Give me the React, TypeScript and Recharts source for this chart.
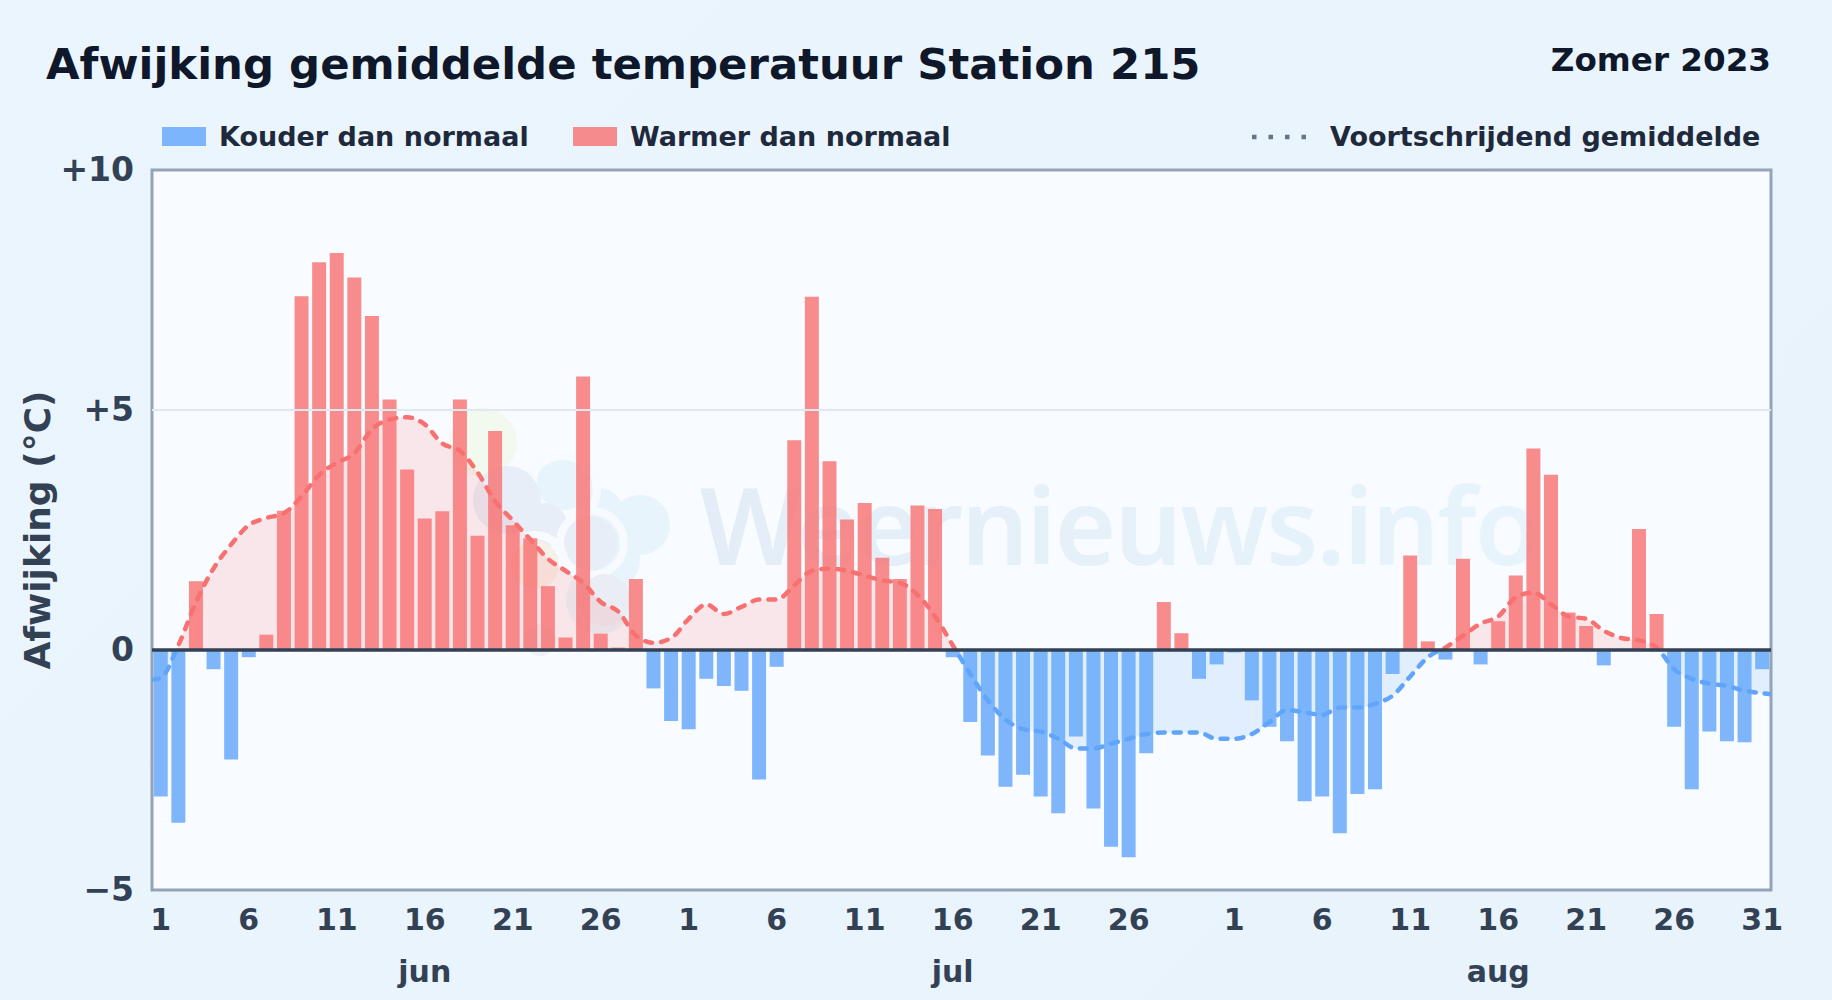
import React from 'react';
import { ComposedChart, Bar, Line, Area, XAxis, YAxis, ReferenceLine, ReferenceArea } from 'recharts';

const W = 1832, H = 1000;
const PLOT = { left: 152, top: 170, right: 1771, bottom: 890 };
const FONT = '"DejaVu Sans", sans-serif';

const titleText = 'Afwijking gemiddelde temperatuur Station 215';
const periodText = 'Zomer 2023';
const coldName = 'Kouder dan normaal';
const warmName = 'Warmer dan normaal';
const avgName = 'Voortschrijdend gemiddelde';
const yAxisName = 'Afwijking (°C)';
const yTicks = [-5, 0, 5, 10];
const yGrid = [5];
const xDomain = [-0.5, 91.5];

const juneValues = [-3.05, -3.6, 1.43, -0.4, -2.28, -0.15, 0.32, 2.9, 7.37, 8.08, 8.27, 7.76, 6.96, 5.22, 3.76, 2.74, 2.89, 5.22, 2.38, 4.56, 2.6, 2.33, 1.33, 0.26, 5.7, 0.34, 0.05, 1.48, -0.8, -1.48];
const julyValues = [-1.65, -0.6, -0.75, -0.85, -2.7, -0.35, 4.37, 7.36, 3.93, 2.72, 3.06, 1.92, 1.48, 3.01, 2.94, -0.15, -1.5, -2.2, -2.85, -2.6, -3.05, -3.4, -1.8, -3.3, -4.1, -4.32, -2.15, 1.0, 0.35, -0.6, -0.3];
const augustValues = [-0.05, -1.05, -1.6, -1.9, -3.15, -3.05, -3.82, -3.0, -2.9, -0.5, 1.97, 0.18, -0.2, 1.9, -0.3, 0.6, 1.55, 4.2, 3.65, 0.78, 0.5, -0.32, 0, 2.52, 0.75, -1.6, -2.9, -1.7, -1.9, -1.92, -0.4];

const months = [
  { name: 'jun', days: juneValues.length },
  { name: 'jul', days: julyValues.length },
  { name: 'aug', days: augustValues.length },
];

const avgEdgeStart = -0.62;
const avgEdgeEnd = -0.92;
const rollingAvg = [
  -0.58, 0.1, 1.0, 1.7, 2.2, 2.6, 2.75, 2.85, 3.2, 3.65, 3.9, 4.1, 4.6, 4.8, 4.85, 4.7, 4.3, 4.15, 3.7, 3.1, 2.7, 2.3, 1.9, 1.65, 1.4, 1.0, 0.8, 0.3, 0.15, 0.25,
  0.65, 0.95, 0.75, 0.9, 1.05, 1.05, 1.35, 1.65, 1.7, 1.65, 1.55, 1.45, 1.4, 1.15, 0.7, 0.1, -0.5, -1.05, -1.45, -1.65, -1.7, -1.85, -2.05, -2.05, -1.95, -1.85, -1.75, -1.72, -1.72, -1.72, -1.85,
  -1.85, -1.75, -1.5, -1.25, -1.3, -1.35, -1.2, -1.2, -1.12, -0.95, -0.55, -0.15, 0.05, 0.3, 0.55, 0.7, 1.1, 1.2, 0.95, 0.7, 0.65, 0.4, 0.25, 0.2, 0.05, -0.4, -0.6, -0.7, -0.75, -0.85, -0.9,
];

const values = [...juneValues, ...julyValues, ...augustValues];
const chartData = values.map((v, i) => ({ x: i, warm: v > 0 ? v : 0, cold: v < 0 ? v : 0 }));
const avgData = [
  { x: xDomain[0], avg: avgEdgeStart },
  ...rollingAvg.map((avg, i) => ({ x: i, avg })),
  { x: xDomain[1], avg: avgEdgeEnd },
];

// Tick every 5th day of each month plus the last day of August; month name under day 16.
const tickInfo = new Map<number, { day: number; month?: string }>();
{
  let offset = 0;
  months.forEach((m, mi) => {
    for (let d = 1; d <= m.days; d += 5) {
      if (d === 31 && mi !== months.length - 1) continue;
      tickInfo.set(offset + d - 1, { day: d, month: d === 16 ? m.name : undefined });
    }
    offset += m.days;
  });
}

const COLD = '#60a5fa';
const WARM = '#f87171';
const AXIS_TEXT = '#334155';
const zeroOffset = yTicks[yTicks.length - 1] / (yTicks[yTicks.length - 1] - yTicks[0]);

function XTick(props: any) {
  const { x, payload } = props;
  const info = tickInfo.get(Number(payload.value));
  if (!info) return null;
  return (
    <g fontFamily={FONT} fontWeight={700} fill={AXIS_TEXT} textAnchor="middle">
      <text x={x} y={PLOT.bottom + 40} fontSize={30}>{info.day}</text>
      {info.month && <text x={x} y={PLOT.bottom + 92} fontSize={30}>{info.month}</text>}
    </g>
  );
}

function YTick(props: any) {
  const { x, y, payload } = props;
  const v = payload.value;
  const label = v > 0 ? `+${v}` : v < 0 ? `\u2212${Math.abs(v)}` : '0';
  return (
    <text x={x} y={y + 11} textAnchor="end" fontFamily={FONT} fontWeight={700} fontSize={33} fill={AXIS_TEXT}>{label}</text>
  );
}

function Watermark() {
  return (
    <svg width={W} height={H} style={{ position: 'absolute', left: 0, top: 0 }}>
      <defs>
        <linearGradient id="wmText" x1="0" x2="1" y1="0" y2="0">
          <stop offset="0" stopColor="#e4edf7" />
          <stop offset="1" stopColor="#e7f4fc" />
        </linearGradient>
      </defs>
      <g>
        <circle cx={483} cy={442} r={34} fill="#f2f9ee" />
        <g fill="#e8f4fc">
          <circle cx={565} cy={482} r={28} />
          <circle cx={600} cy={510} r={22} />
          <circle cx={640} cy={525} r={30} />
          <circle cx={610} cy={560} r={30} />
          <circle cx={600} cy={600} r={34} />
        </g>
        <circle cx={563} cy={490} r={34} fill="none" stroke="#f7fbff" strokeWidth={8} />
        <g fill="#e7eef8">
          <circle cx={507} cy={500} r={34} />
          <circle cx={545} cy={525} r={22} />
          <circle cx={590} cy={543} r={27} />
        </g>
        <circle cx={592} cy={543} r={32} fill="none" stroke="#f7fbff" strokeWidth={8} />
        <circle cx={535} cy={565} r={30} fill="none" stroke="#f7fbff" strokeWidth={8} />
        <circle cx={535} cy={565} r={24} fill="#f6f1e8" />
        <circle cx={605} cy={600} r={26} fill="#eaedf4" />
        <circle cx={540} cy={640} r={16} fill="#edf2f9" />
      </g>
      <text x={700} y={565} fontFamily='"Noto Sans", sans-serif' fontWeight={600} fontSize={106} letterSpacing={-2} fill="url(#wmText)">Weernieuws.info</text>
    </svg>
  );
}

function LegendRow() {
  const label: React.CSSProperties = { position: 'absolute', top: 120, fontFamily: FONT, fontWeight: 700, fontSize: 27, lineHeight: '34px', color: '#1e293b', whiteSpace: 'nowrap' };
  const swatch: React.CSSProperties = { position: 'absolute', top: 127, width: 44, height: 19 };
  return (
    <>
      <div style={{ ...swatch, left: 162, background: COLD, opacity: 0.8 }} />
      <div style={{ ...label, left: 219 }}>{coldName}</div>
      <div style={{ ...swatch, left: 573, background: WARM, opacity: 0.8 }} />
      <div style={{ ...label, left: 630 }}>{warmName}</div>
      <svg width={60} height={6} style={{ position: 'absolute', left: 1252, top: 134 }}>
        <line x1={0} x2={60} y1={3} y2={3} stroke="#64748b" strokeWidth={4.5} strokeDasharray="4.5 12" />
      </svg>
      <div style={{ ...label, left: 1330 }}>{avgName}</div>
    </>
  );
}

export default function App() {
  return (
    <div style={{ position: 'absolute', left: 0, top: 0, width: W, height: H, overflow: 'hidden', background: 'linear-gradient(135deg, #ebf5fd 0%, #e8f3fc 100%)' }}>
      <div style={{ position: 'absolute', left: PLOT.left, top: PLOT.top, width: PLOT.right - PLOT.left, height: PLOT.bottom - PLOT.top, background: '#f8fbff' }} />
      <Watermark />
      <div style={{ position: 'absolute', left: 46, top: 36, fontFamily: FONT, fontWeight: 700, fontSize: 43.4, lineHeight: '56px', color: '#0f172a', whiteSpace: 'nowrap' }}>{titleText}</div>
      <div style={{ position: 'absolute', right: W - PLOT.right, top: 38, fontFamily: FONT, fontWeight: 700, fontSize: 32.6, lineHeight: '44px', color: '#0f172a', whiteSpace: 'nowrap' }}>{periodText}</div>
      <LegendRow />
      <div style={{ position: 'absolute', left: 0, top: 0 }}>
        <ComposedChart
          width={W}
          height={H}
          data={chartData}
          stackOffset="sign"
          barCategoryGap="10%"
          margin={{ top: PLOT.top, right: W - PLOT.right, bottom: 0, left: 0 }}
          style={{ background: 'transparent' }}
        >
          <defs>
            <linearGradient id="avgStroke" gradientUnits="userSpaceOnUse" x1="0" x2="0" y1={PLOT.top} y2={PLOT.bottom}>
              <stop offset={zeroOffset} stopColor={WARM} />
              <stop offset={zeroOffset} stopColor={COLD} />
            </linearGradient>
            <linearGradient id="avgFill" gradientUnits="userSpaceOnUse" x1="0" x2="0" y1={PLOT.top} y2={PLOT.bottom}>
              <stop offset={zeroOffset} stopColor={WARM} stopOpacity={0.15} />
              <stop offset={zeroOffset} stopColor={COLD} stopOpacity={0.15} />
            </linearGradient>
          </defs>
          <XAxis
            xAxisId="days"
            dataKey="x"
            type="category"
            interval={0}
            height={H - PLOT.bottom}
            axisLine={false}
            tickLine={false}
            tick={<XTick />}
          />
          <XAxis
            xAxisId="avg"
            dataKey="x"
            type="number"
            domain={xDomain}
            hide
            allowDataOverflow
          />
          <YAxis
            type="number"
            domain={[yTicks[0], yTicks[yTicks.length - 1]]}
            ticks={yTicks}
            interval={0}
            width={PLOT.left}
            axisLine={false}
            tickLine={false}
            tickMargin={12}
            tick={<YTick />}
            label={{ value: yAxisName, angle: -90, position: 'insideLeft', offset: 0, dx: 37, dy: 0, style: { fontFamily: FONT, fontWeight: 700, fontSize: 36, fill: AXIS_TEXT, textAnchor: 'middle' } }}
          />
          {yGrid.map((g) => (
            <ReferenceLine key={g} xAxisId="avg" y={g} stroke="#e2e8f0" strokeWidth={2} />
          ))}
          <Area xAxisId="avg" data={avgData} dataKey="avg" type="monotone" baseValue={0} stroke="none" fill="url(#avgFill)" fillOpacity={1} isAnimationActive={false} dot={false} activeDot={false} />
          <Bar xAxisId="days" dataKey="warm" stackId="dev" fill={WARM} fillOpacity={0.8} isAnimationActive={false} />
          <Bar xAxisId="days" dataKey="cold" stackId="dev" fill={COLD} fillOpacity={0.8} isAnimationActive={false} />
          <Line xAxisId="avg" data={avgData} dataKey="avg" type="monotone" stroke="url(#avgStroke)" strokeWidth={4.5} strokeDasharray="7 9" strokeLinecap="round" dot={false} activeDot={false} isAnimationActive={false} />
          <ReferenceLine xAxisId="avg" y={0} stroke="#334155" strokeWidth={3.5} />
          <ReferenceArea xAxisId="avg" x1={xDomain[0]} x2={xDomain[1]} y1={yTicks[0]} y2={yTicks[yTicks.length - 1]} fill="none" stroke="#94a3b8" strokeWidth={3} ifOverflow="visible" />
        </ComposedChart>
      </div>
    </div>
  );
}
